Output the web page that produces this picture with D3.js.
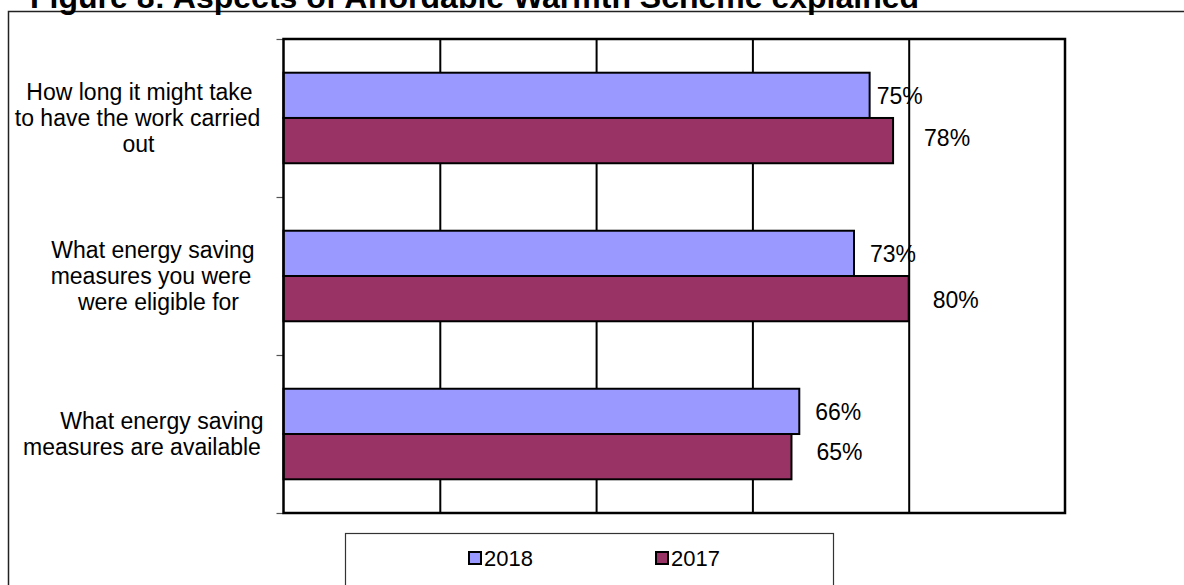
<!DOCTYPE html>
<html>
<head>
<meta charset="utf-8">
<script src="https://cdn.jsdelivr.net/npm/d3@7"></script>
<style>
  html, body { margin: 0; padding: 0; background: #fff; overflow: hidden; }
  svg { display: block; font-family: "Liberation Sans", Arial, sans-serif; }
</style>
</head>
<body>
<svg id="chart" width="1184" height="585"></svg>
<script>
// ---- data ----
const categories = [
  "How long it might take to have the work carried out",
  "What energy saving measures you were were eligible for",
  "What energy saving measures are available"
];
const categoryLines = [
  ["How long it might take", "to have the work carried", "out"],
  ["What energy saving", "measures you were", "were eligible for"],
  ["What energy saving", "measures are available"]
];
const seriesNames = ["2018", "2017"];
const values2018 = [0.75, 0.73, 0.66];
const values2017 = [0.78, 0.80, 0.65];
const gridTicks = [0.2, 0.4, 0.6, 0.8];
const titleText = "Figure 8: Aspects of Affordable Warmth Scheme explained";

// ---- layout ----
const W = 1184, H = 585;
const plot = { left: 283.5, right: 1065, top: 39, bottom: 513 };
const colors = { "2018": "#9999FF", "2017": "#993366" };
const font = 23;
// per-line horizontal centres of the wrapped category labels
const lineCentres = [[139.5, 137.5, 138.5], [153, 151, 158.5], [162, 142]];
// value label nudges from the bar end (dx) and bar centre (dy)
const labelNudge = {
  "2018": [[7, 1], [16, 1], [16, 1]],
  "2017": [[31, -3], [24, 1], [25, -5]]
};

const svg = d3.select("#chart");

// chart-area frame (continues past the right and bottom edges)
svg.append("rect")
  .attr("x", 8.5).attr("y", 11.5)
  .attr("width", W + 20).attr("height", H + 20)
  .attr("fill", "#fff").attr("stroke", "#222").attr("stroke-width", 1.5);

// title, partly clipped at the top of the page
svg.append("text")
  .attr("x", 30).attr("y", 8)
  .attr("font-size", 32).attr("font-weight", "bold")
  .attr("fill", "#000")
  .text(titleText);

// scales
const x = d3.scaleLinear().domain([0, 1]).range([plot.left, plot.right]);
const y = d3.scaleBand().domain(categories)
  .range([plot.top, plot.bottom])
  .paddingInner(0.427).paddingOuter(0.2133);
const ySub = d3.scaleBand().domain(seriesNames).range([0, y.bandwidth()]);

// vertical gridlines
svg.append("g")
  .attr("transform", `translate(0,${plot.bottom})`)
  .call(d3.axisBottom(x).tickValues(gridTicks)
    .tickSize(-(plot.bottom - plot.top)).tickFormat(""))
  .call(g => g.select(".domain").remove())
  .call(g => g.selectAll(".tick line").attr("stroke", "#000").attr("stroke-width", 2));

// category tick marks on the left axis
const yIdx = d3.scaleLinear().domain([0, categories.length]).range([plot.top, plot.bottom]);
svg.append("g")
  .attr("transform", `translate(${plot.left},0)`)
  .call(d3.axisLeft(yIdx).tickValues(d3.range(categories.length + 1))
    .tickSize(7).tickFormat(""))
  .call(g => g.select(".domain").remove())
  .call(g => g.selectAll(".tick line").attr("stroke", "#555").attr("stroke-width", 1.2));

// bars
const rows = [];
categories.forEach((c, i) => {
  rows.push({ cat: c, i, s: "2018", v: values2018[i] });
  rows.push({ cat: c, i, s: "2017", v: values2017[i] });
});

svg.append("g").selectAll("rect")
  .data(rows).join("rect")
  .attr("x", x(0))
  .attr("y", d => y(d.cat) + ySub(d.s))
  .attr("width", d => x(d.v) - x(0))
  .attr("height", ySub.bandwidth())
  .attr("fill", d => colors[d.s])
  .attr("stroke", "#000").attr("stroke-width", 2);

// plot-area border
svg.append("rect")
  .attr("x", plot.left).attr("y", plot.top)
  .attr("width", plot.right - plot.left).attr("height", plot.bottom - plot.top)
  .attr("fill", "none").attr("stroke", "#000").attr("stroke-width", 2.5);

// value labels
svg.append("g").selectAll("text")
  .data(rows).join("text")
  .attr("x", d => x(d.v) + labelNudge[d.s][d.i][0])
  .attr("y", d => y(d.cat) + ySub(d.s) + ySub.bandwidth() / 2 + labelNudge[d.s][d.i][1])
  .attr("dy", "0.35em")
  .attr("font-size", font).attr("fill", "#000")
  .text(d => d3.format(".0%")(d.v));

// category labels
const lineH = 26;
categoryLines.forEach((lines, i) => {
  const cy = y(categories[i]) + y.bandwidth() / 2;
  lines.forEach((ln, j) => {
    svg.append("text")
      .attr("x", lineCentres[i][j])
      .attr("y", cy + (j - (lines.length - 1) / 2) * lineH)
      .attr("dy", "0.35em")
      .attr("text-anchor", "middle")
      .attr("font-size", font).attr("fill", "#000")
      .text(ln);
  });
});

// legend
const legend = svg.append("g");
legend.append("rect")
  .attr("x", 345.5).attr("y", 533.5)
  .attr("width", 488).attr("height", 80)
  .attr("fill", "#fff").attr("stroke", "#333").attr("stroke-width", 1.2);
const legendX = d3.scaleOrdinal().domain(seriesNames).range([468, 655]);
const legendCy = 558;
const items = legend.selectAll("g.item").data(seriesNames).join("g")
  .attr("class", "item")
  .attr("transform", d => `translate(${legendX(d)},${legendCy})`);
items.append("rect")
  .attr("x", 1).attr("y", -6).attr("width", 12).attr("height", 12)
  .attr("fill", d => colors[d]).attr("stroke", "#000").attr("stroke-width", 2);
items.append("text")
  .attr("x", 16).attr("dy", "0.35em")
  .attr("font-size", 22).attr("fill", "#000")
  .text(d => d);
</script>
</body>
</html>
